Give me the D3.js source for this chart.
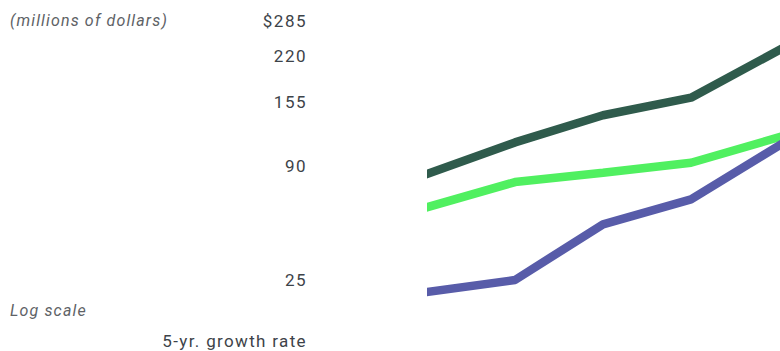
<!DOCTYPE html>
<html>
<head>
<meta charset="utf-8">
<script src="https://cdn.jsdelivr.net/npm/d3@7"></script>
<style>
  body { margin: 0; background: #fff; }
  svg { display: block; }
  .tick text { font-family: Roboto, 'Liberation Sans', sans-serif; font-size: 17px; fill: #3d4349; letter-spacing: 1.5px; }
  .note { font-family: Roboto, 'Liberation Sans', sans-serif; font-style: italic; font-size: 16px; fill: #5e6266; letter-spacing: 1.15px; }
  .sub { font-family: Roboto, 'Liberation Sans', sans-serif; font-size: 17px; fill: #3d4349; letter-spacing: 1.35px; }
</style>
</head>
<body>
<div class="wrapper"></div>
<script>
// x categories (axis itself is cropped out of the picture)
const periods = ['P1', 'P2', 'P3', 'P4', 'P5']

// series values, millions of dollars
const darkSeries = [84, 111, 139, 160, 230]
const greenSeries = [61, 78, 85, 93, 116]
const blueSeries = [20.5, 25, 51, 66, 108]

const tickValues = [25, 90, 155, 220, 285]

const series = [
  { name: 'dark', values: darkSeries, color: '#2f5b4c' },
  { name: 'green', values: greenSeries, color: '#50f060' },
  { name: 'blue', values: blueSeries, color: '#585ca9' },
]

const width = 780,
  height = 351

const x = d3.scalePoint()
  .domain(periods)
  .range([427, 779])

// the printed "log" scale is compressed at the low end
const y = d3.scaleSymlog()
  .constant(35)
  .domain([25, 285])
  .range([280, 21])

const svg = d3.select('.wrapper')
  .append('svg')
  .attr('width', width)
  .attr('height', height)

svg.append('defs')
  .append('clipPath')
  .attr('id', 'plot-clip')
  .append('rect')
  .attr('x', 427)
  .attr('y', 0)
  .attr('width', width - 427)
  .attr('height', height)

const yAxis = d3.axisLeft(y)
  .tickValues(tickValues)
  .tickSize(0)
  .tickPadding(0)
  .tickFormat(d => d === 285 ? '$' + d : d)

svg.append('g')
  .attr('class', 'y-axis')
  .attr('transform', 'translate(307, 0)')
  .call(yAxis)
  .call(g => g.select('.domain').remove())

const line = d3.line()
  .x((d, i) => x(periods[i]))
  .y(d => y(d))

svg.append('g')
  .attr('clip-path', 'url(#plot-clip)')
  .selectAll('path')
  .data(series)
  .enter().append('path')
  .attr('d', d => line(d.values))
  .attr('fill', 'none')
  .attr('stroke', d => d.color)
  .attr('stroke-width', 8.5)
  .attr('stroke-linecap', 'square')
  .attr('stroke-linejoin', 'bevel')

svg.append('text')
  .attr('class', 'note')
  .attr('x', 10)
  .attr('y', 26)
  .text('(millions of dollars)')

svg.append('text')
  .attr('class', 'note')
  .attr('x', 10)
  .attr('y', 316)
  .text('Log scale')

svg.append('text')
  .attr('class', 'sub')
  .attr('x', 307)
  .attr('y', 347)
  .attr('text-anchor', 'end')
  .text('5-yr. growth rate')
</script>
</body>
</html>
